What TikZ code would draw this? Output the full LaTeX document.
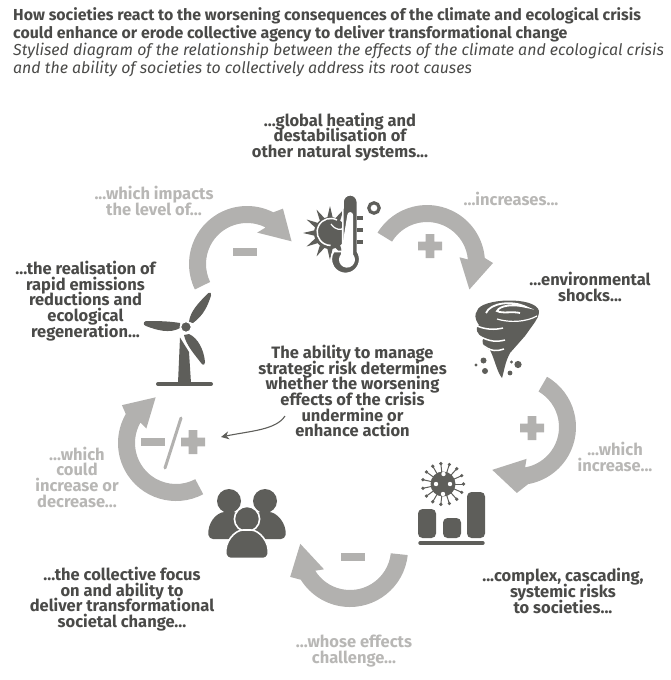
\documentclass[tikz,border=0pt]{standalone}
\usepackage{fontspec}
\setmainfont{Fira Sans}
\usetikzlibrary{arrows.meta, calc}
\definecolor{icondark}{HTML}{5E5E5A}
\definecolor{ringgray}{HTML}{B2B1AF}
\definecolor{cuegray}{HTML}{B8B7B5}
\definecolor{textdark}{HTML}{4A4A48}

\newcommand{\ringarrow}[6]{%
  \fill[ringgray] ($(#1)+(#2:58)$) arc[start angle=#2, end angle=#3, radius=58]
    -- ($(#1)+(#4:66)$) -- ($(#1)+(#6:50)$) -- ($(#1)+(#5:33)$) -- ($(#1)+(#3:41)$)
    arc[start angle=#3, end angle=#2, radius=41] -- cycle;
}

\begin{document}
\begin{tikzpicture}[x=1pt, y=-1pt,
            headline/.style={anchor=base west, inner sep=0pt, text=textdark,
                             font=\fontsize{15.9}{17}\selectfont\bfseries},
            subline/.style={anchor=base west, inner sep=0pt, text=textdark,
                            font=\fontsize{15.9}{17}\selectfont\itshape},
            stage/.style={align=center, inner sep=0pt, text=textdark,
                          font={\fontsize{16.5}{15.7}\selectfont\lineskiplimit -20pt\bfseries}},
            cue/.style={stage, text=cuegray},
            minusmark/.style={rectangle, fill=ringgray, inner sep=0pt,
                              minimum width=24pt, minimum height=8.5pt},
            plusmark/.pic={\fill[ringgray] (-12,-4.3) rectangle (12,4.3) (-4.3,-12) rectangle (4.3,12);},
            icon/.style={fill=icondark},
            halo/.style={fill=icondark, draw=white, line width=1.6pt}
        ]
            \useasboundingbox (0,0) rectangle (671,680);

            \node[headline] (headA) at (13,20) {How societies react to the worsening consequences of the climate and ecological crisis};
            \node[headline] (headB) at (13,38) {could enhance or erode collective agency to deliver transformational change};
            \node[subline] (subA) at (13,55) {Stylised diagram of the relationship between the effects of the climate and ecological crisis};
            \node[subline] (subB) at (13,73) {and the ability of societies to collectively address its root causes};

            \node[stage] (heating) at (340,137) {...global heating and\\destabilisation of\\other natural systems...};
            \node[stage] (shocks) at (590,287) {...environmental\\shocks...};
            \node[stage] (risks) at (563,591) {...complex, cascading,\\systemic risks\\to societies...};
            \node[stage] (focus) at (122,599) {...the collective focus\\on and ability to\\deliver transformational\\societal change...};
            \node[stage] (reductions) at (85.5,301) {...the realisation of\\rapid emissions\\reductions and\\ecological\\regeneration...};
            \node[stage] (ability) at (352.5,391) {The ability to manage\\strategic risk determines\\whether the worsening\\effects of the crisis\\undermine or\\enhance action};

            \node[cue] (increases) at (511,199) {...increases...};
            \node[cue] (increase) at (615,457) {...which\\increase...};
            \node[cue] (challenge) at (354,651) {...whose effects\\challenge...};
            \node[cue] (decrease) at (77,477) {...which\\could\\increase or\\decrease...};
            \node[cue] (impacts) at (154,201) {...which impacts\\the level of...};

            \coordinate (ringA) at (427,263);
            \coordinate (ringB) at (518,427);
            \coordinate (ringC) at (350,549);
            \coordinate (ringD) at (176,443);
            \coordinate (ringE) at (247,264);
            \ringarrow{ringA}{-148.5}{-5}{0}{-10}{32}
            \ringarrow{ringB}{-60}{80}{91}{75}{121}
            \ringarrow{ringC}{6}{148}{155}{142}{186}
            \ringarrow{ringD}{62}{210}{215}{206}{246}
            \ringarrow{ringE}{154}{297}{303}{288}{333}

            \path (430,246) pic {plusmark};
            \path (532,428) pic {plusmark};
            \node[minusmark] (minusC) at (353,557) {};
            \node[minusmark] (minusE) at (245,252) {};
            \node[minusmark] (minusD) at (153,442) {};
            \path (193,442) pic {plusmark};
            \draw[ringgray, line width=3pt, line cap=round] (181,418) -- (165,468);

            \coordinate (mixed) at (221,437);
            \draw[icondark, line width=1.1pt, -{Stealth[length=8pt, width=8pt]}]
                (285,416) .. controls (276,430) and (250,431) .. (mixed);

            % sun and thermometer
            \begin{scope}
                \clip (290,190) rectangle (343,265);
                \foreach \a in {0,30,...,330}
                    \fill[icon] ($(330,233)+(\a-15:13)$) -- ($(330,233)+(\a:27)$) -- ($(330,233)+(\a+15:13)$) -- cycle;
                \fill[icon] (330,233) circle (16);
                \draw[white, line width=1.5pt] (337,220) arc[start angle=-62, end angle=-270, radius=13.5];
                \draw[white, line width=1.2pt] (331,224) .. controls (336,231) and (342,230) .. (343,228);
            \end{scope}
            \draw[icon, draw=white, line width=1.6pt] (343,202) arc[start angle=180, end angle=360, radius=7.2]
                -- (357.4,251.5) arc[start angle=-33, end angle=213, radius=14.2] -- (342.6,251.5) -- cycle;
            \fill[white] (347.3,215) arc[start angle=180, end angle=360, radius=2.9] -- (353.1,254.5)
                arc[start angle=-40, end angle=220, radius=8] -- cycle;
            \foreach \y in {218,230,242}
                \fill[icon] (357,\y-2) rectangle (363,\y+2);
            \draw[icondark, line width=3.2pt] (374,208) circle (5.2);

            % wind turbine
            \fill[icon] (180,337.5) -- (189,352) -- (191,383) -- (178,383) -- cycle;
            \draw[icondark, line width=4pt, line cap=round] (158,384) -- (211,384);
            \fill[icon] (189,322) .. controls (190,312) and (198,303) .. (208.5,293)
                .. controls (210,291.5) and (212,293) .. (211,295.5)
                .. controls (208,305) and (204,315) .. (193,323) -- cycle;
            \fill[icon] (180,323) .. controls (168,321) and (156,321) .. (146,321)
                .. controls (143,322) and (143,325) .. (146,326)
                .. controls (156,330) and (170,334) .. (180,328) -- cycle;
            \fill[icon] (184,335) .. controls (186,345) and (195,355) .. (201.5,363.5)
                .. controls (203,366) and (206,364) .. (205,362)
                .. controls (204,350) and (198,338) .. (189,334) -- cycle;
            \draw[halo] (186,327) circle (5.6);

            % tornado
            \fill[icon] (477,311) .. controls (480,298) and (536,296) .. (539,311)
                .. controls (539,316) and (537,319) .. (535,322)
                -- (525,336) -- (510,353) .. controls (505,362) and (504,372) .. (502,378)
                .. controls (497,372) and (495,360) .. (490,350)
                .. controls (482,347) and (481,340) .. (484,338)
                .. controls (476,334) and (475,328) .. (479,325)
                .. controls (474,318) and (475,314) .. (477,311) -- cycle;
            \draw[white, line width=1.8pt] (486,313) .. controls (490,303) and (512,300) .. (526,307)
                .. controls (514,304) and (500,305) .. (497,311) .. controls (503,314) and (512,311) .. (520,313);
            \draw[white, line width=1.2pt] (497,319) .. controls (510,323) and (526,322) .. (537,316);
            \draw[white, line width=1.5pt] (475,325) .. controls (485,330) and (495,330) .. (503,328);
            \draw[white, line width=1.5pt] (479,336) .. controls (490,342) and (497,342) .. (505,340);
            \draw[white, line width=1.5pt] (484,346) .. controls (492,352) and (498,351) .. (504,349);
            \fill[icon] (483.5,360.5) circle (3);
            \fill[icon] (485,371) circle (3);
            \fill[icon] (476,365) circle (1.6);
            \fill[icon] (518,364.5) circle (3.6);
            \fill[icon] (511.5,362) circle (1.6);
            \fill[icon] (510,373) circle (2.4);

            % virus and bars
            \foreach \a in {0,24,...,336} {
                \draw[icondark, line width=1pt] (443,484) -- ++(\a:20);
                \fill[icon] ($(443,484)+(\a:20.5)$) circle (1.8);
            }
            \fill[icon] (443,484) circle (12.5);
            \foreach \x/\y in {436/484,450/484,443.5/474,443/494}
                \fill[white] (\x,\y) circle (2.2);
            \fill[icon, rounded corners=4.5pt] (418,538) -- (418,509) -- (436,509) -- (436,538) -- cycle;
            \fill[icon, rounded corners=4.5pt] (443,538) -- (443,518) -- (461,518) -- (461,538) -- cycle;
            \fill[icon, rounded corners=4.5pt] (467,538) -- (467,492) -- (485,492) -- (485,538) -- cycle;
            \draw[icondark, line width=3.4pt, line cap=round] (420,543) -- (483,543);

            % people
            \foreach \x in {229,265}
                \fill[icon] (\x,501) circle (12);
            \fill[icon, rounded corners=4pt] (209,539) .. controls (207,524) and (216,512) .. (229,512)
                .. controls (241,512) and (250,524) .. (249,539) -- cycle;
            \fill[icon, rounded corners=4pt] (245,539) .. controls (244,524) and (253,512) .. (265,512)
                .. controls (277,512) and (287,524) .. (285,539) -- cycle;
            \draw[halo] (247,519) circle (12.6);
            \draw[halo, rounded corners=4pt] (226.5,558.5) .. controls (224,542) and (235,530) .. (247,530)
                .. controls (259,530) and (270,542) .. (267.5,558.5) -- cycle;
        \end{tikzpicture}
\end{document}
